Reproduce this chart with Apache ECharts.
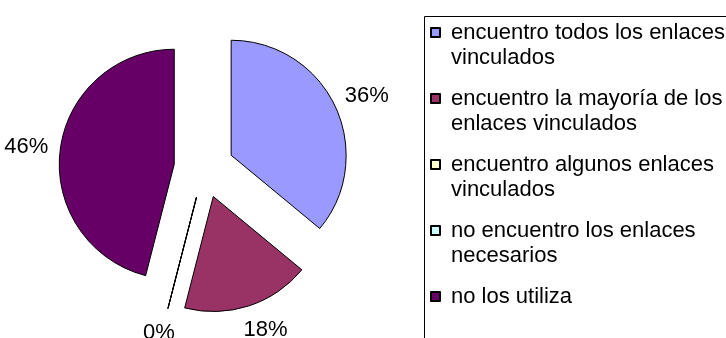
<!DOCTYPE html>
<html>
<head>
<meta charset="utf-8">
<script src="https://cdn.jsdelivr.net/npm/echarts@6/dist/echarts.min.js"></script>
<style>
  html, body { margin: 0; padding: 0; background: #fff; }
  #chart { width: 726px; height: 338px; }
</style>
</head>
<body>
<div id="chart"></div>
<script>
// Respuestas sobre los enlaces vinculados (porcentaje)
const categories = [
  'encuentro todos los enlaces\nvinculados',
  'encuentro la mayoría de los\nenlaces vinculados',
  'encuentro algunos enlaces\nvinculados',
  'no encuentro los enlaces\nnecesarios',
  'no los utiliza'
];
const values = [36, 18, 0, 0, 46];
const colors = ['#9999FF', '#993366', '#FFFFCC', '#CCFFFF', '#660066'];

const chart = echarts.init(document.getElementById('chart'), null, { renderer: 'canvas' });

const pieData = categories.map((name, i) => ({ name: name, value: values[i], selected: true }));

// Each legend entry is padded to three lines so the marker sits beside the first line.
function legendText(name) {
  const lines = name.split('\n');
  while (lines.length < 2) lines.push('');
  return '\n' + lines.join('\n');
}

chart.setOption({
  animation: false,
  color: colors,
  graphic: [{
    // recuadro de la leyenda
    type: 'rect',
    left: 422, top: 14,
    shape: { width: 340, height: 360 },
    style: { fill: 'none', stroke: '#000', lineWidth: 1 },
    silent: true
  }],
  legend: {
    orient: 'vertical',
    left: 430,
    top: -5,
    padding: 0,
    itemGap: -9,
    itemWidth: 9,
    itemHeight: 9,
    icon: 'rect',
    selectedMode: false,
    formatter: legendText,
    textStyle: {
      fontFamily: 'Liberation Sans, Arial, sans-serif',
      fontSize: 22,
      color: '#000',
      lineHeight: 25,
      padding: [0, 0, 0, 6]
    }
  },
  series: [{
    type: 'pie',
    center: [204, 168],
    radius: 115,
    startAngle: 90,
    clockwise: true,
    selectedMode: 'multiple',
    selectedOffset: 30,
    avoidLabelOverlap: false,
    minShowLabelAngle: 0,
    itemStyle: { borderColor: '#000', borderWidth: 1 },
    emphasis: { disabled: true },
    label: {
      show: true,
      position: 'outside',
      formatter: p => Math.round(p.percent) + '%',
      fontFamily: 'Liberation Sans, Arial, sans-serif',
      fontSize: 22,
      color: '#000'
    },
    labelLine: { show: false, length: 25, length2: -18 },
    data: pieData
  }]
});
</script>
</body>
</html>
